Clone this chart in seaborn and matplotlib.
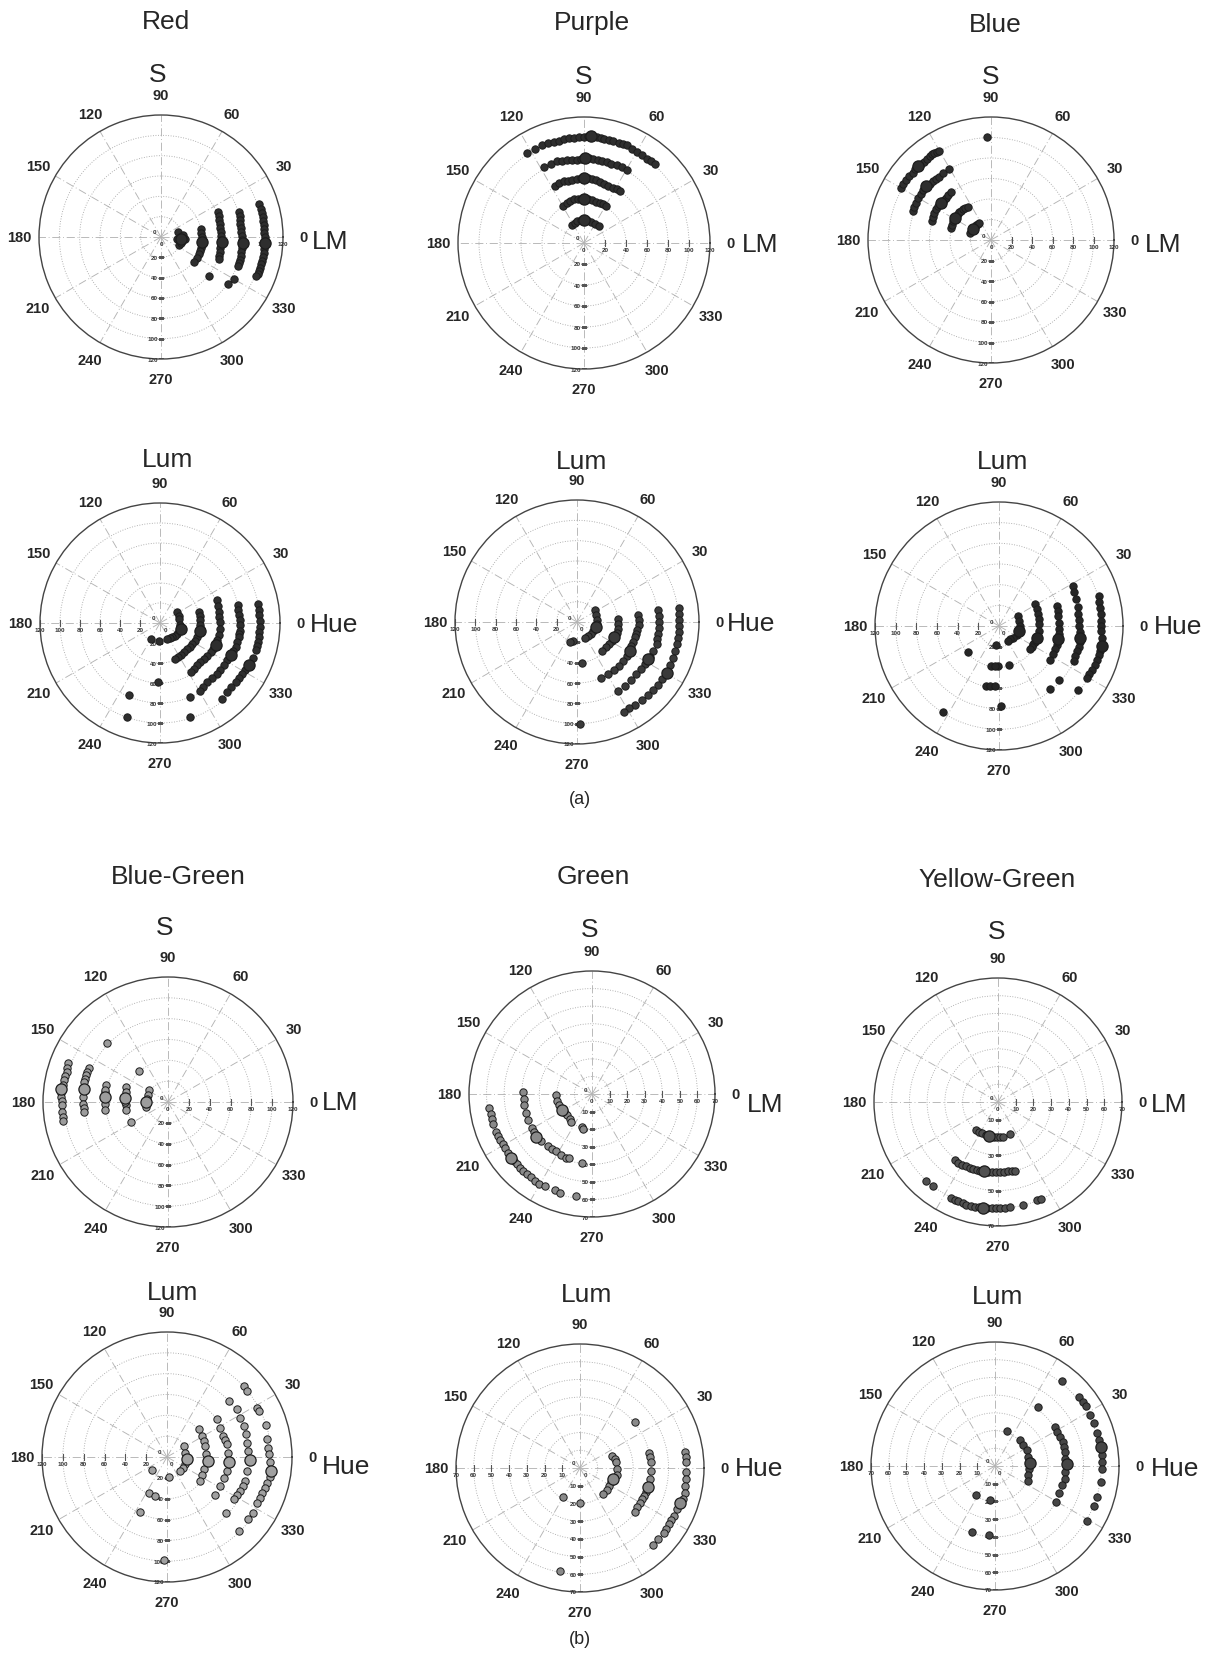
import numpy as np
import matplotlib
matplotlib.use('Agg')
import matplotlib.pyplot as plt
import matplotlib.transforms as mtransforms
import seaborn as sns

sns.set_style('white')
plt.rcParams['font.family'] = ['Liberation Sans', 'DejaVu Sans']

# ---- data: cone-contrast points (x = LM or Hue axis, y = S or Lum axis)
red_s_x = [17, 19, 22, 21, 18, 24, 16, 20,
           39, 39, 40, 41, 40, 39, 38, 37, 35, 32,
           56, 57, 57, 58, 58, 59, 59, 59, 59, 58, 58, 57, 57, 47,
           77, 78, 78, 78, 79, 79, 80, 80, 80, 80, 79, 79, 78, 77, 76, 72, 66,
           96, 98, 99, 100, 100, 101, 101, 101, 102, 102, 102, 101, 101, 100, 99, 98, 97, 96, 95, 93]
red_s_y = [5, 0, 2, -4, -8, -2, -2, -6,
           8, 4, 0, -4, -8, -11, -14, -17, -21, -25,
           25, 21, 17, 13, 9, 5, 1, -3, -7, -11, -15, -19, -22, -38,
           25, 21, 17, 13, 9, 5, 1, -3, -7, -11, -15, -19, -23, -26, -29, -41, -46,
           32, 28, 24, 20, 16, 12, 8, 4, 0, -4, -8, -12, -16, -20, -24, -27, -30, -33, -36, -38]
red_s_big_x = [20, 40, 60, 81, 102]
red_s_big_y = [-2, -5, -5, -6, -6]

purple_s_x = [-11.4, -9, -6.7, -3, 0, 3, 6.7, 10, 14,
              -20, -16, -13, -10, -6, -3, 0, 4, 8, 11, 15, 18, 21,
              -28, -24, -19.4, -15, -11.4, -7, -3, 0, 4, 8, 11, 15, 19, 23, 28, 31, 34.6,
              -38, -31, -26, -21, -16, -11, -7, -3, 1, 5, 9, 13, 17, 22, 26, 31, 36, 41,
              -54, -47, -40, -34, -29, -24, -19, -14, -10, -5, 0, 4, 8, 12, 16, 19, 24, 28, 33, 37, 41, 46, 50, 55, 60, 64, 68]
purple_s_y = [17.5, 19, 20.6, 21.5, 22, 21.5, 20, 18, 16,
              35, 38, 40, 41.5, 42, 42, 42, 41.5, 40.6, 39.5, 38.4, 37, 35,
              54, 57, 58.7, 59.5, 60.3, 61, 61.5, 62, 61.5, 60.5, 59.7, 58, 56.5, 54.5, 52, 51, 50,
              72, 75, 77.8, 78.2, 78.7, 79, 79.4, 80, 81, 80.5, 79.8, 79, 78, 77, 75.5, 74, 72, 70,
              86, 90, 93, 95, 96, 97.5, 99, 99.6, 100, 100.5, 101, 101.5, 101.6, 101, 100, 99.4, 98, 97, 95.5, 94, 93, 90, 87, 84, 80, 78, 75.6]
purple_s_big_x = [0, 0, 0, 1, 7]
purple_s_big_y = [22, 42, 62, 81, 101.6]

blue_s_x = [-20.5, -19, -17.9, -16, -14.6, -13, -11.4,
            -39, -38, -36.7, -35, -34, -32, -30.8, -29, -27, -25, -22.7,
            -57.5, -56.5, -55.2, -53.5, -51.9, -50, -48.7, -46, -43.8, -41.5, -39,
            -76.3, -75, -73, -71, -68.2, -66, -63.3, -60, -56.8, -54, -51, -47,
            -87.7, -85.5, -82.8, -80, -76.3, -74, -71.4, -68, -64.9, -62.5, -60, -57.5, -55.2, -52.5, -50.3,
            -40.6, -4.2]
blue_s_y = [7, 9.5, 12, 13, 14.3, 15.5, 17,
            12, 15, 18.5, 21, 23.4, 25.5, 27.3, 28.5, 30, 31, 32.5,
            18.5, 22.5, 26.6, 30, 33.1, 35, 36.4, 39, 41.2, 44, 46.8,
            28, 32, 36.4, 40.5, 44.5, 48.5, 52.6, 55, 57.5, 59.5, 61.7, 65,
            51, 55, 59, 62.5, 65.6, 69, 72.1, 74, 76, 79, 81.8, 83.5, 85.1, 86, 86.7,
            68.8, 100.6]
blue_s_big_x = [-17.2, -34.7, -48.7, -63.3, -71.4]
blue_s_big_y = [10.4, 21.8, 36.4, 52.6, 72.1]

red_lum_x = [17.3, 18.5, 19, 20, 20.7, 19, 17.3, 15, 12.3, 10, 7.3, -1, -8.7,
             39, 39.5, 40, 40.5, 40.7, 39.5, 37.3, 35, 32.3, 30, 27.3, 24, 20.7, 17.5, 14.7,
             56.7, 58, 59, 59.5, 60, 60, 59, 57.5, 55.7, 53, 50.7, 47.5, 44, 40.5, 37.3, 34, 30.7,
             30, 30, -31, -32.7, -1.7,
             78, 78.5, 79, 79.5, 80, 80, 79.5, 79, 77.5, 75.7, 73, 70.7, 67.5, 64, 60.5, 57.3, 52, 47.3, 43.5, 39.7,
             98.3, 99, 99.3, 99.8, 100, 99.5, 99, 98, 97, 95.7, 93, 89, 85.5, 82.3, 79, 75.7, 71.5, 67.3, 62.3]
red_lum_y = [11, 7.5, 4.3, -2.3, -5.7, -8, -10.7, -12.5, -14, -15, -16.3, -18.3, -15.7,
             11, 7, 2.7, -1.5, -5.7, -10, -14, -17.5, -20.7, -23.5, -25.7, -29, -32.3, -34, -35.7,
             22.7, 17, 11, 6, 1, -6, -12.3, -17, -21.7, -25.5, -29, -32.5, -35.7, -39, -41.7, -45.5, -49,
             -74, -94, -72.3, -94, -59,
             17.7, 13, 7.7, 3, -2.3, -8, -11, -14, -19, -24, -28, -32.3, -37, -42.3, -46.5, -50.7, -55, -59, -63.5, -68,
             19.3, 13.5, 7.7, 2, -4, -9, -14, -19, -23, -27.3, -35, -42.3, -46.5, -50.7, -55, -59, -64, -69, -76.3]
red_lum_big_x = [20.7, 40.5, 55.7, 70.7, 89]
red_lum_big_y = [-5.7, -8, -21.7, -32.3, -42.3]

purple_lum_x = [17.7, 19, 20, 19.5, 18.3, 16, 13.3, 11, 8.3, -4, -6.7,
                40, 40.5, 40.7, 39, 36.7, 34, 31.7, 28.5, 25, 5,
                60, 60.5, 60.7, 59.5, 58, 56.7, 55, 53.5, 51.7, 49, 45, 41, 36.7, 30, 23.3,
                80, 80.5, 80.7, 80.5, 80, 79, 78.3, 75, 72, 70, 67, 63.3, 58.5, 53.3, 47, 40.7,
                100, 100.5, 100.7, 100.5, 100, 99, 98, 96.7, 94.5, 91.5, 88.3, 84, 80, 75, 70, 63.5, 56.7, 51.5, 46.7,
                3.3]
purple_lum_y = [11.7, 6.5, 1.7, -2, -5, -8.5, -11.7, -14, -16, -18.3, -20,
                3.3, -1.5, -6.7, -11, -15, -18.5, -21.7, -25, -28.3, -40,
                6.7, 2, -3.3, -8, -11.5, -15, -19.5, -24, -28.3, -33, -38.3, -43, -47.3, -51, -55,
                11.7, 6, 0, -6, -11.7, -16.5, -21.7, -29, -34, -36.7, -41.5, -46.7, -51.5, -56.7, -62.5, -68.3,
                13.3, 7.5, 1.7, -4, -10, -16, -22, -28.3, -35, -42.5, -50, -56, -61.7, -67, -71.7, -77, -81.7, -85, -88.3,
                -100]
purple_lum_big_x = [18.3, 36.7, 51.7, 70, 88.3]
purple_lum_big_y = [-5, -15, -28.3, -36.7, -50]

blue_lum_x = [18.5, 19.5, 20.1, 19.5, 17, 13.6, 11, 8.8, -2.6,
              34.7, 36.5, 38, 38.7, 39, 38.5, 37, 35, 33.1, 31.5, 29.9, 9.7, -1, -7.5, -4,
              55.8, 56.8, 57.5, 58, 58.4, 58, 57.5, 56, 54.2, 52, 49.4, 58.4, 49.4, -12.3, -9, -4.2, 2.3,
              71.4, 73, 74.7, 76, 76.9, 77.5, 77.9, 78.3, 78.6, 78, 77, 75.3, 73.8, 72.1, 76.9,
              96.4, 97, 98, 98.5, 99, 99, 99, 99.5, 99.7, 98, 96.5, 94.8, 92.5, 90, 87.5, 85,
              -30.2, -54.5]
blue_lum_y = [9.7, 5, 0, -4.9, -8.5, -11.4, -13, -14.6, -18.8,
              21.1, 16, 11.4, 6.5, 1.6, -5, -11.4, -15, -17.9, -20.5, -22.7, -37.3, -39, -39, -39,
              19.5, 14.5, 9.7, 3, -3.2, -8, -13, -18, -22.7, -27.5, -32.5, -52.6, -61, -58.4, -58, -58.4, -77.9,
              39, 32.5, 26, 18.5, 11.4, 5.5, 0, -5.5, -11.4, -15.5, -20, -24.4, -29, -34.1, -62.3,
              29.2, 23.5, 17.9, 11.5, 4.9, 0, -4.9, -12, -19.5, -24, -28, -32.5, -37.5, -42.2, -46.5, -50.3,
              -25.3, -83.4]
blue_lum_big_x = [19.5, 37, 57.5, 78.6, 99.7]
blue_lum_big_y = [-4.9, -11.4, -13, -11.4, -19.5]

bg_s_x = [-17.9, -19.5, -21.1, -21.1, -20, -27.6, -35.7,
          -40.6, -40.6, -41.2, -40.6, -40.6, -41,
          -60, -60.7, -60.7, -60.7, -60.7, -60.5, -58.4,
          -76.3, -77.5, -78.9, -79.5, -80.2, -80.2, -81.2, -81.2, -81, -80.2,
          -96.4, -97, -97.4, -98.5, -99.7, -101, -102.9, -102.5, -102.3, -102, -101.6, -101.6, -101, -100.6]
bg_s_y = [11.4, 6.5, 0, -4.9, 3, 29.9, -19.5,
          14.6, 9.7, 3.9, -3.2, -8.1, 0,
          16.2, 9.7, 4.9, -1.6, -8.1, 12, 56.8,
          32.5, 29, 26, 22.5, 19.5, 12.3, 4.9, -1.6, -6, -9.7,
          37.3, 33, 29.2, 25, 21.1, 16, 12.3, 8.5, 4.9, 1, -3.2, -9.7, -14, -17.9]
bg_s_big_x = [-21.1, -41.2, -60.7, -80.2, -102.9]
bg_s_big_y = [0, 3.9, 4.9, 12.3, 12.3]

green_s_x = [-20.5, -19.9, -18.6, -16.8, -15.5, -14, -12.8, -11.7, -5.6, -5,
             -39.1, -38.8, -38.5, -37.8, -36.3, -34.1, -33, -31.7, -28.9, -25.1, -23, -20.5, -17.5, -14.9, -13, -5.6,
             -58.7, -57.7, -57, -56.4, -54.9, -53.5, -52.1, -50.7, -49.3, -47.7, -46, -44.5, -42.8, -41, -39.1,
             -37, -34.5, -32.5, -30.4, -27, -21, -18.1, -9.3]
green_s_y = [-0.6, -3.7, -6.5, -9.3, -10.8, -12.1, -14, -15.8, -18.6, -19.9,
             1.3, -3, -6.5, -10.6, -14.9, -19.2, -21.5, -24.2, -27, -29.8, -31.3, -32.6, -34.5, -36.7, -36.7, -39.1,
             -8, -11.2, -14, -17.3, -21.4, -23.7, -26.1, -28.4, -30.7, -33.5, -36.3, -38.2, -40, -42, -43.8,
             -45.7, -47.5, -49.3, -51.2, -52.1, -54.9, -56.4, -58.3]
green_s_big_x = [-16.8, -31.7, -46]
green_s_big_y = [-9.3, -24.2, -36.3]

yg_s_x = [-12.5, -11, -9.3, -7, -4.9, -2.5, -0.8, 1, 2.6, 6.8,
          -24.4, -22.5, -20.6, -18, -15.9, -14, -12.1, -10, -7.9, -5.8, -3.6, -1.2, 1.1, 3.5, 5.9, 7.8, 9.6,
          -40.5, -36.7, -26.3, -24.4, -22.5, -20, -17.8, -15.5, -13, -10.8, -8.7, -6, -3.6, -1.2, 1.1, 4, 6.8, 14, 21.9, 24.2]
yg_s_y = [-15.9, -16.8, -17.4, -18.5, -19.3, -19.6, -19.8, -19.8, -19.8, -18.3,
          -32.9, -34.2, -35.3, -36.3, -37.2, -37.7, -38.2, -38.7, -39.1, -39.3, -39.5, -39.5, -39.5, -39.3, -39.1, -39, -38.8,
          -44.8, -47.6, -54.3, -55.2, -56.1, -57.1, -58, -58.5, -59, -59.5, -59.9, -59.9, -59.9, -59.9, -59.9, -59.7, -59.5, -58.4, -55.6, -54.6]
yg_s_big_x = [-4.9, -7.9, -8.7]
yg_s_big_y = [-19.3, -39.1, -59.9]

bg_lum_x = [16.7, 17.6, 19.2, 17.6, 15.5, 12.8, 1.6, -14.4, -17.6, -11.2, -25.6, -3.2,
            30.4, 33.7, 35.5, 36.9, 37.8, 39.1, 35.9, 34, 31.4,
            48.1, 51.3, 53.8, 56, 57.7, 58.3, 59.3, 57.7, 54.5, 51.3, 46.5,
            59.3, 67.3, 70.5, 73.7, 75.5, 76.9, 77.6, 79.5, 76.9, 75.3, 73, 70.5, 67, 64.1, 57.1,
            73.7, 76.9, 86.5, 88.1, 94.6, 96.2, 96.8, 97.8, 99, 100, 98.5, 96.2, 94, 91.3, 89, 86.5, 82.7, 77.6, 68.9]
bg_lum_y = [10.6, 4.2, -2.2, -7, -10.5, -13.5, -18.9, -12.8, -34.9, -37.5, -52.9, -98.4,
            27.2, 20.2, 15, 10.6, 2.6, -3.8, -11.9, -17, -23.1,
            36.2, 28.2, 20.2, 16, 12.2, 4.2, -4.8, -13.5, -19.9, -27.9, -36.9,
            53.8, 45.8, 37.8, 29.8, 22, 13.8, 5.8, -3.2, -13.5, -23.1, -28, -32.7, -36.5, -40.7, -53.5,
            68.3, 63.5, 47.4, 44.2, 30.4, 17, 9, 2.6, -5, -13.5, -19, -24.7, -29.5, -34.3, -39, -43.9, -53.5, -59.9, -71.2]
bg_lum_big_x = [19.2, 39.1, 59.3, 79.5, 100]
bg_lum_big_y = [-2.2, -3.8, -4.8, -3.2, -13.5]

green_lum_x = [18, 19.5, 20.4, 20.8, 20.8, 18.9, 17.5, 16.6, 15, 13.2, -9.8, 0,
               38.8, 39.5, 40.1, 40.1, 39.3, 38.2, 37, 35.9, 34.8, 33.6, 32.4, 31.2, 31.2,
               59.5, 60, 60.1, 60.1, 60, 59.5, 59, 58.2, 56.3, 54.5, 52.9, 51.5, 50.1, 48.7, 47.3, 44, 41.2, -11.3]
green_lum_y = [7, 5, 3.2, -0.6, -4, -6.2, -8, -10, -12.3, -14.7, -16.6, -19.5,
               8.5, 6, 3.2, -1.5, -6.2, -11, -13.3, -15.7, -17.6, -19.5, -22, -24.6, 25.9,
               8.9, 6, 3.2, -2.5, -6, -10, -14, -17.6, -19.5, -23.3, -27, -29.4, -31.8, -34.2, -36.5, -40, -43.7, -58.2]
green_lum_big_x = [18.9, 38.2, 56.3]
green_lum_big_y = [-6.2, -11, -19.5]

yg_lum_x = [14.1, 15.6, 17.9, 18.8, 19.8, 19.4, 18.8, 18.4,
            34, 35, 36.9, 38.4, 39, 39.7, 39.7, 40.7, 39.7, 39.7, 37.8, 35.9, 34.6,
            37.8, 47.3, 49.5, 51.1, 53.6, 55.9, 57.8, 58.8, 59.7, 60.3, 60.6, 60.6, 59.7, 57.4, 55.9, 51.7,
            24, 6.5, -11, -3, -12.9, -3.4]
yg_lum_y = [14.6, 11.8, 8.9, 5.1, 1.9, -1.5, -5.3, -8.2,
            22.2, 19.4, 16.5, 13.7, 11, 8, 4.2, 1.3, -3.4, -7.2, -11, -15.2, -20.2,
            47.9, 38.8, 36, 33.7, 28.9, 24.1, 18.4, 14.5, 10.8, 6.1, 2, -1.5, -9.1, -17.7, -22.8, -31,
            33.1, 19.8, -16.3, -19, -37.3, -39.2]
yg_lum_big_x = [19.8, 40.7, 59.7]
yg_lum_big_y = [1.9, 1.3, 10.8]

# ---- figure layout (pixel centres / radius of each polar panel)
W, H = 1214, 1656
fig = plt.figure(figsize=(W / 100, H / 100), dpi=100)

panels = [
    (161, 238, 122, 120, 'S', red_s_x, red_s_y, red_s_big_x, red_s_big_y, '#2e2e2e'),
    (584, 244, 126, 120, 'S', purple_s_x, purple_s_y, purple_s_big_x, purple_s_big_y, '#2e2e2e'),
    (991, 241, 123, 120, 'S', blue_s_x, blue_s_y, blue_s_big_x, blue_s_big_y, '#2e2e2e'),
    (160, 624, 120, 120, 'Lum', red_lum_x, red_lum_y, red_lum_big_x, red_lum_big_y, '#2e2e2e'),
    (577, 623, 122, 120, 'Lum', purple_lum_x, purple_lum_y, purple_lum_big_x, purple_lum_big_y, '#3a3a3a'),
    (999, 627, 124, 120, 'Lum', blue_lum_x, blue_lum_y, blue_lum_big_x, blue_lum_big_y, '#262626'),
    (168, 1103, 125, 120, 'S', bg_s_x, bg_s_y, bg_s_big_x, bg_s_big_y, '#9c9c9c'),
    (592, 1095, 123, 70, 'S', green_s_x, green_s_y, green_s_big_x, green_s_big_y, '#8a8a8a'),
    (998, 1103, 124, 70, 'S', yg_s_x, yg_s_y, yg_s_big_x, yg_s_big_y, '#505050'),
    (167, 1458, 125, 120, 'Lum', bg_lum_x, bg_lum_y, bg_lum_big_x, bg_lum_big_y, '#a0a0a0'),
    (580, 1469, 124, 70, 'Lum', green_lum_x, green_lum_y, green_lum_big_x, green_lum_big_y, '#8a8a8a'),
    (995, 1467, 124, 70, 'Lum', yg_lum_x, yg_lum_y, yg_lum_big_x, yg_lum_big_y, '#454545'),
]

small_kw = dict(fontsize=4.5, fontweight='bold', color='#333333')

for cx, cy, R, rmax, kind, xs, ys, bxs, bys, face in panels:
    ax = fig.add_axes([(cx - R) / W, (H - cy - R) / H, 2 * R / W, 2 * R / H], projection='polar')
    xs, ys = np.array(xs, float), np.array(ys, float)
    bxs, bys = np.array(bxs, float), np.array(bys, float)

    sns.scatterplot(x=np.arctan2(ys, xs), y=np.hypot(xs, ys), ax=ax, s=28, color=face,
                    edgecolor='#1c1c1c', linewidth=0.7, zorder=4, legend=False)
    sns.scatterplot(x=np.arctan2(bys, bxs), y=np.hypot(bxs, bys), ax=ax, s=65, color=face,
                    edgecolor='#1c1c1c', linewidth=0.9, zorder=5, legend=False)

    step = 20 if rmax == 120 else 10
    rings = np.arange(step, rmax, step)
    ax.set_rlim(0, rmax)
    ax.set_rgrids(rings, labels=[''] * len(rings))
    angles = np.arange(0, 360, 30)
    ax.set_thetagrids(angles, labels=[str(a) for a in angles], fontsize=10.5, fontweight='bold')
    ax.tick_params(axis='x', pad=4)
    ax.xaxis.grid(True, color='#b4b4b4', lw=0.65, linestyle=(0, (9, 3, 1, 3)))
    ax.yaxis.grid(True, color='#a8a8a8', lw=0.65, linestyle=(0, (1, 1.8)))
    ax.spines['polar'].set_color('#444444')
    ax.spines['polar'].set_linewidth(1.0)
    ax.set_xlabel('')
    ax.set_ylabel('')

    # small radial labels along the spokes
    down = mtransforms.offset_copy(ax.transData, fig=fig, x=0, y=-4, units='dots')
    left = mtransforms.offset_copy(ax.transData, fig=fig, x=-3, y=0, units='dots')
    ax.plot(np.full(len(rings) + 1, 1.5 * np.pi), np.append(rings, rmax), ls='none',
            marker='_', ms=4, color='#555555', mew=0.8)
    for v in np.append(rings, rmax):
        ax.text(1.5 * np.pi, v, str(v), transform=left, ha='right', va='center', **small_kw)
    if kind == 'S':
        ax.plot(np.zeros(len(rings) + 1), np.append(rings, rmax), ls='none',
                marker='|', ms=4, color='#555555', mew=0.8)
        for v in np.append([0], np.append(rings, rmax)):
            ax.text(0, v, str(v), transform=down, ha='center', va='top', **small_kw)
    else:
        ax.plot(np.full(len(rings) + 1, np.pi), np.append(rings, rmax), ls='none',
                marker='|', ms=4, color='#555555', mew=0.8)
        for v in np.append(rings, rmax):
            ax.text(np.pi, v, str(v), transform=down, ha='center', va='top', **small_kw)
        zero_br = mtransforms.offset_copy(ax.transData, fig=fig, x=5, y=-4, units='dots')
        ax.text(0, 0, '0', transform=zero_br, ha='center', va='top', **small_kw)
    zero_ul = mtransforms.offset_copy(ax.transData, fig=fig, x=-7, y=5, units='dots')
    ax.text(0, 0, '0', transform=zero_ul, ha='center', va='center', **small_kw)


def ftext(x, y, s, size=19, ha='center'):
    fig.text(x / W, 1 - y / H, s, ha=ha, va='center', fontsize=size)


for x, y, s in [(166, 22, 'Red'), (592, 23, 'Purple'), (995, 25, 'Blue'),
                (178, 877, 'Blue-Green'), (593, 877, 'Green'), (997, 880, 'Yellow-Green')]:
    ftext(x, y, s)

for x, y in [(158, 75), (584, 77), (991, 77), (165, 928), (590, 930), (997, 932)]:
    ftext(x, y, 'S')
for x, y in [(312, 242), (742, 245), (1145, 245), (322, 1103), (747, 1105), (1151, 1105)]:
    ftext(x, y, 'LM', ha='left')
for x, y in [(168, 460), (582, 462), (1003, 462), (173, 1293), (587, 1295), (998, 1297)]:
    ftext(x, y, 'Lum')
for x, y in [(310, 625), (727, 624), (1154, 627), (322, 1467), (735, 1469), (1151, 1469)]:
    ftext(x, y, 'Hue', ha='left')

ftext(580, 799, '(a)', size=13)
ftext(580, 1640, '(b)', size=13)

fig.savefig('out.png', dpi=100, facecolor='white')
